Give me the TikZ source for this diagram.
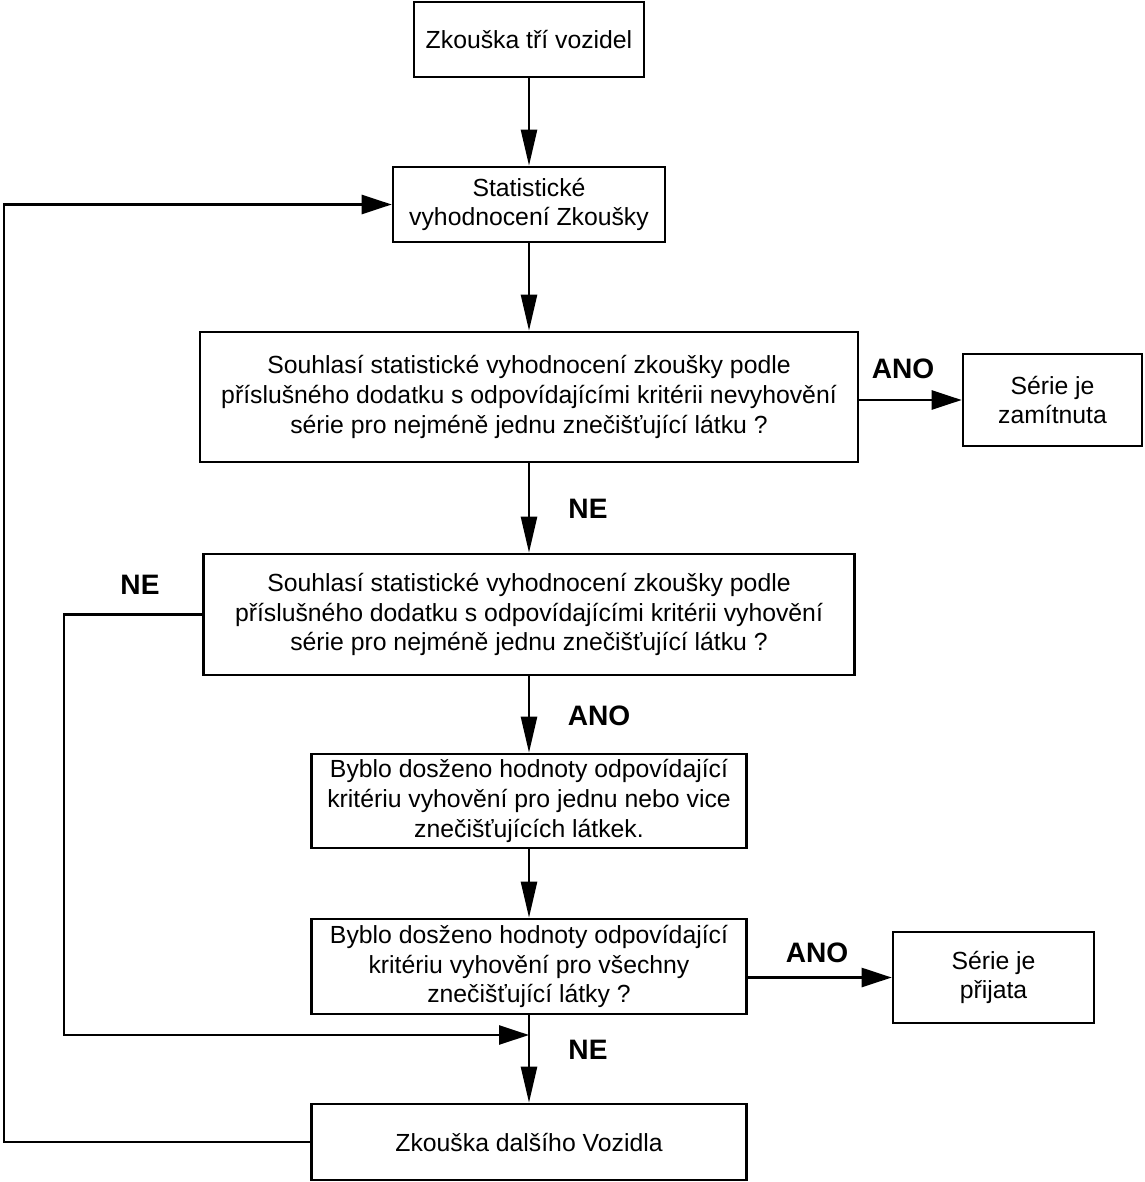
\documentclass[tikz,border=0pt]{standalone}
\usepackage{fontspec}
\setmainfont{Liberation Sans}
\usetikzlibrary{arrows.meta}

\begin{document}
\begin{tikzpicture}[x=0.02cm, y=-0.02cm,
  box/.style={draw, line width=1.5pt, align=center, inner sep=0pt,
    font=\fontsize{14.1}{17}\selectfont},
  lbl/.style={font=\fontsize{16}{18}\selectfont\bfseries},
  arrv/.style={line width=1.4pt, -{Triangle[length=0.72cm, width=0.32cm]}},
  arrh/.style={line width=1.4pt, -{Triangle[length=0.6cm, width=0.38cm]}}]
\useasboundingbox (0,0) rectangle (1144,1182);
% boxes
\node[box, minimum width=4.6cm, minimum height=1.5cm] (start) at (529,39.5) {Zkouška tří vozidel};
\node[box, minimum width=5.44cm, minimum height=1.5cm] (stat) at (529,204.5) {Statistické\\vyhodnocení Zkoušky};
\node[box, minimum width=13.16cm, minimum height=2.6cm] (fail) at (529,397) {Souhlasí statistické vyhodnocení zkoušky podle\\příslušného dodatku s odpovídajícími kritérii nevyhovění\\série pro nejméně jednu znečišťující látku ?};
\node[box, minimum width=3.58cm, minimum height=1.84cm] (reject) at (1052.5,400) {Série je\\zamítnuta};
\node[box, minimum width=13.02cm, minimum height=2.42cm] (pass) at (529,614.5) {Souhlasí statistické vyhodnocení zkoušky podle\\příslušného dodatku s odpovídajícími kritérii vyhovění\\série pro nejméně jednu znečišťující látku ?};
\node[box, minimum width=8.7cm, minimum height=1.88cm] (some) at (529,801) {Byblo dosženo hodnoty odpovídající\\kritériu vyhovění pro jednu nebo vice\\znečišťujících látkek.};
\node[box, minimum width=8.7cm, minimum height=1.9cm] (all) at (529,966.5) {Byblo dosženo hodnoty odpovídající\\kritériu vyhovění pro všechny\\znečišťující látky ?};
\node[box, minimum width=4.02cm, minimum height=1.82cm] (accept) at (993.5,977.5) {Série je\\přijata};
\node[box, minimum width=8.7cm, minimum height=1.52cm] (next) at (529,1142) {Zkouška dalšího Vozidla};
% labels
\node[lbl] (ano1) at (903,369) {ANO};
\node[lbl] (ne1) at (588,509) {NE};
\node[lbl] (ne2) at (140,585) {NE};
\node[lbl] (ano2) at (599,716) {ANO};
\node[lbl] (ano3) at (817,953) {ANO};
\node[lbl] (ne3) at (588,1050) {NE};
% connectors
\coordinate (loopa) at (4,1142);
\coordinate (loopb) at (64,1035);
\coordinate (merge) at (529,1035);
\draw[arrv] (start) -- (stat);
\draw[arrv] (stat) -- (fail);
\draw[arrh] (fail.east |- reject.west) -- (reject.west);
\draw[arrv] (fail) -- (pass);
\draw[arrv] (pass) -- (some);
\draw[arrv] (some) -- (all);
\draw[arrh] (all.east |- accept.west) -- (accept.west);
\draw[arrv] (all) -- (next);
\draw[arrh] (pass.west) -| (loopb) -- (merge);
\draw[arrh] (next.west) -- (loopa) |- (stat.west);
\end{tikzpicture}
\end{document}
